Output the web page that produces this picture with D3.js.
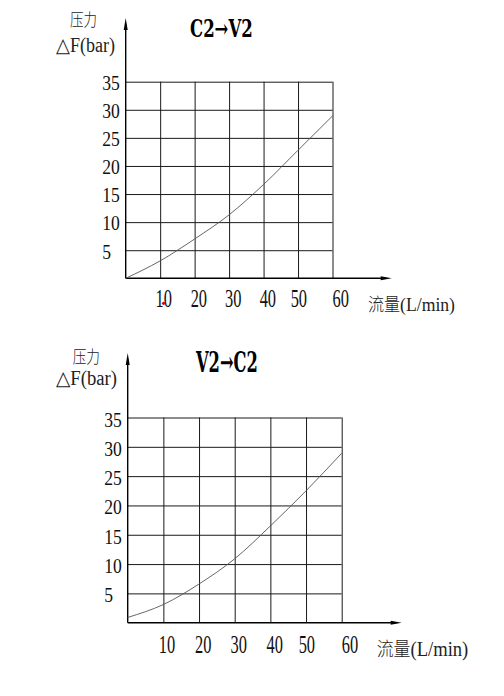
<!DOCTYPE html>
<html>
<head>
<meta charset="utf-8">
<script src="https://cdn.jsdelivr.net/npm/d3@7"></script>
<style>
  html, body { margin: 0; padding: 0; background: #fff; }
  svg { display: block; }
</style>
</head>
<body>
<div id="chart"></div>
<script>
// datos: caudal (L/min) y caida de presion (bar)
const flow = [0, 10, 20, 30, 40, 50, 60];
const dpC2V2 = [0, 3.1, 7.0, 11.3, 16.7, 22.8, 28.9];
const dpV2C2 = [0.9, 3.1, 6.6, 10.9, 16.5, 22.5, 28.9];
const xTicks = [10, 20, 30, 40, 50, 60];
const yTicks = [5, 10, 15, 20, 25, 30, 35];
const titles = ['C2→V2', 'V2→C2'];
const yName = ['压力', '△F(bar)'];
const xName = ['流量', '(L/min)'];

// posicion de cada grafico en la pagina
const layout = [
  { left: 125.7, right: 332.5, base: 278.3, top: 81.7, arrowX: 391.7, arrowY: 18,
    title: [190, 37.3, 24, 62.7], xLabDy: 28.4, yLabDy: 8.3, xLabFs: 25, yLabFs: 20,
    yName1: [70, 26, 17, 27], yName2: [56, 51.5, 20, 59], xName: [368, 311, 18, 87] },
  { left: 127.7, right: 341.7, base: 622.7, top: 417.5, arrowX: 401.7, arrowY: 353,
    title: [196, 372.3, 28, 61.7], xLabDy: 30.6, yLabDy: 9, xLabFs: 25.5, yLabFs: 20,
    yName1: [72.7, 363, 17.5, 27.3], yName2: [56, 385, 20, 61], xName: [376.7, 656, 19, 91.6] },
];
// pequeno desplazamiento de las etiquetas del eje x, como en el original
const xLabNudge = [3.6, 4.2, 4.1, 4.3, 0.8, 8.3];

const width = 504;
const height = 696;

const svg = d3.select('#chart')
  .append('svg')
  .attr('width', width)
  .attr('height', height);

const serif = '"Liberation Serif", "DejaVu Serif", serif';
const cjk = '"Noto Sans CJK SC", "Noto Sans", sans-serif';

const drawChart = (values, L, i) => {
  const g = svg.append('g');

  const x = d3.scaleLinear().domain([0, 60]).range([L.left, L.right]);
  const y = d3.scaleLinear().domain([0, 35]).range([L.base, L.top]);

  // rejilla vertical
  g.append('g')
    .attr('transform', `translate(0,${L.base})`)
    .call(d3.axisBottom(x).tickValues(xTicks).tickSize(-(L.base - L.top)).tickFormat(''))
    .call((s) => s.select('.domain').remove())
    .selectAll('line')
    .attr('stroke', '#1a1a1a')
    .attr('stroke-width', 1);

  // rejilla horizontal
  g.append('g')
    .attr('transform', `translate(${L.left},0)`)
    .call(d3.axisLeft(y).tickValues(yTicks).tickSize(-(L.right - L.left)).tickFormat(''))
    .call((s) => s.select('.domain').remove())
    .selectAll('line')
    .attr('stroke', '#1a1a1a')
    .attr('stroke-width', 1);

  // ejes con flecha
  g.append('line')
    .attr('x1', x(0)).attr('x2', L.arrowX - 6)
    .attr('y1', y(0)).attr('y2', y(0))
    .attr('stroke', '#000').attr('stroke-width', 1.4);
  g.append('path')
    .attr('d', `M${L.arrowX},${y(0)} L${L.arrowX - 11},${y(0) - 2} L${L.arrowX - 11},${y(0) + 2} Z`)
    .attr('fill', '#000');
  g.append('line')
    .attr('x1', x(0)).attr('x2', x(0))
    .attr('y1', y(0)).attr('y2', L.arrowY + 6)
    .attr('stroke', '#000').attr('stroke-width', 1.4);
  g.append('path')
    .attr('d', `M${x(0)},${L.arrowY} L${x(0) - 2},${L.arrowY + 12} L${x(0) + 2},${L.arrowY + 12} Z`)
    .attr('fill', '#000');

  // curva
  const line = d3.line()
    .x((d, k) => x(flow[k]))
    .y((d) => y(d))
    .curve(d3.curveMonotoneX);
  g.append('path')
    .datum(values)
    .attr('d', line)
    .attr('fill', 'none')
    .attr('stroke', '#555')
    .attr('stroke-width', 0.9);

  // etiquetas eje y (alineadas a la izquierda)
  g.selectAll('.ylab')
    .data(yTicks)
    .enter()
    .append('text')
    .attr('class', 'ylab')
    .attr('x', x(0) - 23.4)
    .attr('y', (d) => y(d) + L.yLabDy)
    .attr('font-family', serif)
    .attr('font-size', L.yLabFs)
    .attr('textLength', (d) => String(d).length * 8.8)
    .attr('lengthAdjust', 'spacingAndGlyphs')
    .attr('fill', '#111')
    .text((d) => d);

  // etiquetas eje x
  g.selectAll('.xlab')
    .data(xTicks)
    .enter()
    .append('text')
    .attr('class', 'xlab')
    .attr('x', (d, k) => x(d) + xLabNudge[k] - 8.2)
    .attr('y', y(0) + L.xLabDy)
    .attr('font-family', serif)
    .attr('font-size', L.xLabFs)
    .attr('textLength', 16.4)
    .attr('lengthAdjust', 'spacingAndGlyphs')
    .attr('fill', '#111')
    .text((d) => d);

  // titulo (DejaVu Serif trae una flecha grande)
  g.append('text')
    .attr('x', L.title[0])
    .attr('y', L.title[1])
    .attr('font-family', '"DejaVu Serif", serif')
    .attr('font-weight', 'bold')
    .attr('font-size', L.title[2])
    .attr('textLength', L.title[3])
    .attr('lengthAdjust', 'spacingAndGlyphs')
    .attr('fill', '#000')
    .text(titles[i]);

  // nombres de ejes
  g.append('text')
    .attr('x', L.yName1[0]).attr('y', L.yName1[1])
    .attr('font-family', cjk)
    .attr('font-weight', 300)
    .attr('font-size', L.yName1[2])
    .attr('textLength', L.yName1[3])
    .attr('lengthAdjust', 'spacingAndGlyphs')
    .attr('fill', '#222')
    .text(yName[0]);
  g.append('text')
    .attr('x', L.yName2[0]).attr('y', L.yName2[1])
    .attr('font-family', serif)
    .attr('font-size', L.yName2[2])
    .attr('textLength', L.yName2[3])
    .attr('lengthAdjust', 'spacingAndGlyphs')
    .attr('fill', '#222')
    .text(yName[1]);
  const xn = g.append('text')
    .attr('x', L.xName[0]).attr('y', L.xName[1])
    .attr('font-size', L.xName[2])
    .attr('textLength', L.xName[3])
    .attr('lengthAdjust', 'spacingAndGlyphs')
    .attr('fill', '#222');
  xn.append('tspan').attr('font-family', cjk).attr('font-weight', 300).text(xName[0]);
  xn.append('tspan').attr('font-family', serif).attr('font-size', L.xName[2] * 1.1).text(xName[1]);

  return x;
};

const xTop = drawChart(dpC2V2, layout[0], 0);
drawChart(dpV2C2, layout[1], 1);

// punto rojo que aparece junto al "10" del primer grafico
svg.append('circle')
  .attr('cx', xTop(10) + 3.4)
  .attr('cy', 303.3)
  .attr('r', 1.6)
  .attr('fill', '#e00');
</script>
</body>
</html>
